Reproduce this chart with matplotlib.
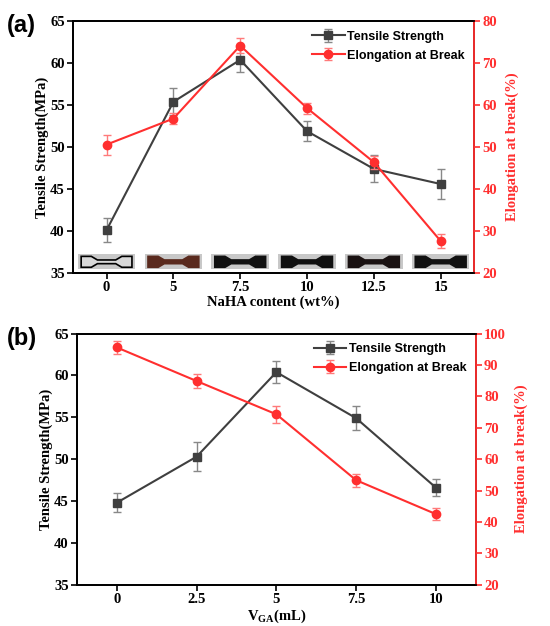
import numpy as np
import matplotlib
matplotlib.use('Agg')
import matplotlib.pyplot as plt
from matplotlib.patches import Rectangle, Polygon

plt.rcParams.update({
    'font.family': 'Liberation Serif',
    'font.weight': 'bold',
    'axes.labelweight': 'bold',
    'font.size': 10.5,
    'axes.linewidth': 1.3,
    'mathtext.fontset': 'custom',
    'mathtext.rm': 'Liberation Serif:bold',
    'mathtext.bf': 'Liberation Serif:bold',
})

# panel (a): NaHA content
naha_labels = ['0', '5', '7.5', '10', '12.5', '15']
ts_a = [40.1, 55.4, 60.4, 51.9, 47.4, 45.6]
ts_a_err = [1.4, 1.6, 1.5, 1.2, 1.6, 1.8]
el_a = [50.6, 56.8, 74.2, 59.3, 46.4, 27.6]
el_a_err = [2.4, 1.3, 1.7, 1.3, 1.5, 1.7]
specimen_colors = ['#d8d8d8', '#5a2a1e', '#111111', '#111111', '#1a1212', '#111111']

# panel (b): GA volume
ga_labels = ['0', '2.5', '5', '7.5', '10']
ts_b = [44.8, 50.3, 60.4, 54.9, 46.6]
ts_b_err = [1.1, 1.7, 1.3, 1.4, 1.0]
el_b = [95.6, 84.9, 74.3, 53.3, 42.5]
el_b_err = [2.0, 2.2, 2.7, 2.1, 1.8]

dark = '#3f3f3f'
red = '#ff2f2f'

fig = plt.figure(figsize=(5.5, 6.26), dpi=100)
ax_a = fig.add_axes([0.133, 0.564, 0.729, 0.402])
ax_b = fig.add_axes([0.140, 0.066, 0.725, 0.401])


def draw_panel(ax, labels, ts, ts_err, el, el_err, el_lim, el_step, xlabel):
    x = np.arange(len(labels))
    ax.errorbar(x, ts, yerr=ts_err, color=dark, marker='s', markersize=6,
                linewidth=1.5, ecolor='#888888', elinewidth=1, capsize=3,
                capthick=1, label='Tensile Strength')
    ax.set_xlim(-0.5, len(labels) - 0.5)
    ax.set_ylim(35, 65)
    ax.set_yticks(np.arange(35, 66, 5))
    ax.set_xticks(x)
    ax.set_xticklabels(labels)
    ax.set_xlabel(xlabel, labelpad=1)
    ax.set_ylabel('Tensile Strength(MPa)', labelpad=1)
    ax.tick_params(direction='out', length=4, width=1.2, pad=2)

    ax2 = ax.twinx()
    ax2.errorbar(x, el, yerr=el_err, color=red, marker='o', markersize=6,
                 linewidth=1.5, ecolor='#ff7a7a', elinewidth=1, capsize=3,
                 capthick=1, label='Elongation at Break')
    ax2.set_ylim(*el_lim)
    ax2.set_yticks(np.arange(el_lim[0], el_lim[1] + 1, el_step))
    ax2.set_ylabel('Elongation at break(%)', color=red, labelpad=6)
    ax2.tick_params(axis='y', colors=red, direction='out', length=4,
                    width=1.2, pad=2)
    ax2.spines['right'].set_color(red)
    ax2.spines['right'].set_linewidth(1.3)

    h1, l1 = ax.get_legend_handles_labels()
    h2, l2 = ax2.get_legend_handles_labels()
    ax2.legend(h1 + h2, l1 + l2, loc='upper right', frameon=False,
               prop={'family': 'Liberation Sans', 'weight': 'bold',
                     'size': 9},
               handlelength=2.6, handletextpad=0.2, labelspacing=0.55,
               borderaxespad=0.35)
    return ax2


draw_panel(ax_a, naha_labels, ts_a, ts_a_err, el_a, el_a_err, (20, 80), 10,
           'NaHA content (wt%)')
draw_panel(ax_b, ga_labels, ts_b, ts_b_err, el_b, el_b_err, (20, 100), 10,
           r'V$_{\rm GA}$(mL)')

# specimen photos along the bottom of panel (a)
w, y0, h = 0.86, 35.45, 1.75
for i, c in enumerate(specimen_colors):
    ax_a.add_patch(Rectangle((i - w / 2, y0), w, h, facecolor='#c8c8c8',
                             edgecolor='none', zorder=1))
    L = i - w / 2 + 0.05
    R = i + w / 2 - 0.05
    span = R - L
    yc = y0 + h / 2
    gh, nh = 0.65, 0.22
    pts = [(L, yc - gh), (L + 0.2 * span, yc - gh), (L + 0.32 * span, yc - nh),
           (R - 0.32 * span, yc - nh), (R - 0.2 * span, yc - gh), (R, yc - gh),
           (R, yc + gh), (R - 0.2 * span, yc + gh), (R - 0.32 * span, yc + nh),
           (L + 0.32 * span, yc + nh), (L + 0.2 * span, yc + gh), (L, yc + gh)]
    ax_a.add_patch(Polygon(pts, closed=True, facecolor=c,
                           edgecolor='black' if i == 0 else c, linewidth=1.2,
                           zorder=1))

fig.text(0.012, 0.960, '(a)', fontsize=17, fontweight='bold',
         family='Liberation Sans', va='center')
fig.text(0.012, 0.460, '(b)', fontsize=17, fontweight='bold',
         family='Liberation Sans', va='center')

fig.savefig('out.png', dpi=100)
